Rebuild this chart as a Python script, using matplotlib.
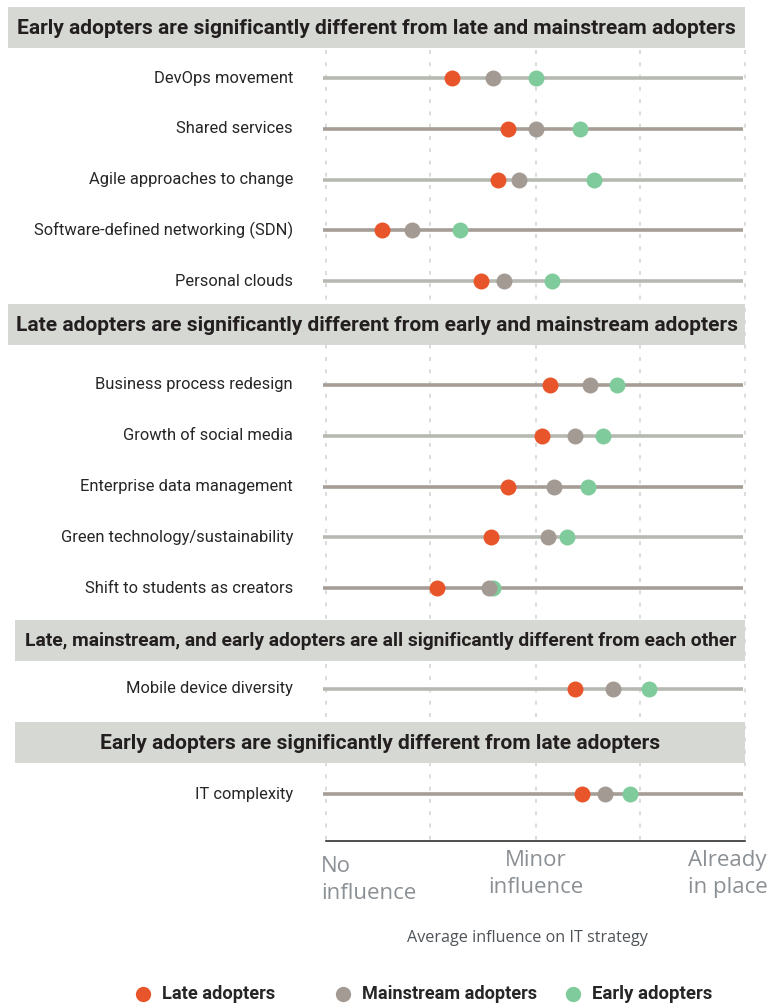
import matplotlib
matplotlib.use("Agg")
import matplotlib.pyplot as plt
from matplotlib.patches import Rectangle

# ---- data -------------------------------------------------------------
section_titles = [
    "Early adopters are significantly different from late and mainstream adopters",
    "Late adopters are significantly different from early and mainstream adopters",
    "Late, mainstream, and early adopters are all significantly different from each other",
    "Early adopters are significantly different from late adopters",
]
section_items = [
    ["DevOps movement", "Shared services", "Agile approaches to change",
     "Software-defined networking (SDN)", "Personal clouds"],
    ["Business process redesign", "Growth of social media",
     "Enterprise data management", "Green technology/sustainability",
     "Shift to students as creators"],
    ["Mobile device diversity"],
    ["IT complexity"],
]
# average influence (1 = no influence, 2 = minor influence, 3 = already in place)
late_adopters = [1.60, 1.87, 1.82, 1.27, 1.74,
                 2.07, 2.03, 1.87, 1.79, 1.53,
                 2.19,
                 2.22]
mainstream_adopters = [1.80, 2.00, 1.92, 1.41, 1.85,
                       2.26, 2.19, 2.09, 2.06, 1.78,
                       2.37,
                       2.33]
early_adopters = [2.00, 2.21, 2.28, 1.64, 2.08,
                  2.39, 2.32, 2.25, 2.15, 1.80,
                  2.54,
                  2.45]
series_names = ["Late adopters", "Mainstream adopters", "Early adopters"]
scale_labels = ["No\ninfluence", "Minor\ninfluence", "Already\nin place"]
axis_title = "Average influence on IT strategy"

# ---- styling ----------------------------------------------------------
RED, GREY, GREEN = "#e9552a", "#a39a93", "#80cb9b"
LINE_LIGHT, LINE_DARK = "#b6b9b1", "#a59d96"
BAND = "#d6d8d3"
TEXT = "#262626"
SCALE_TEXT = "#8b9095"

W, H, DPI = 770, 1006, 100
X0_PX, UNIT_PX = 325.5, 210.0          # pixel of value 1 and pixels per unit


def px2x(px):
    return 1 + (px - X0_PX) / UNIT_PX


fig = plt.figure(figsize=(W / DPI, H / DPI), dpi=DPI)
ax = fig.add_axes([0, 0, 1, 1])
ax.set_xlim(px2x(0), px2x(W))
ax.set_ylim(H, 0)
ax.axis("off")
fig.canvas.draw()
renderer = fig.canvas.get_renderer()


def fit_width(txt, width_px):
    """Rescale a text so that it spans the given width in pixels."""
    w = txt.get_window_extent(renderer).width
    txt.set_fontsize(txt.get_fontsize() * width_px / w)


# vertical layout (pixel rows)
band_tops = [7, 304, 620, 722]
band_h = 41
first_row_gap = [30, 40, 28, 31]
row_pitch = 50.8
axis_y = 841

row_y = []
for top, gap, items in zip(band_tops, first_row_gap, section_items):
    start = top + band_h + gap
    row_y += [start + i * row_pitch for i in range(len(items))]
labels = [lab for items in section_items for lab in items]

# dashed reference lines
for v in [1, 1.5, 2, 2.5, 3]:
    ax.plot([v, v], [50, axis_y], color="#d9d9d9", lw=1.3,
            dashes=(2.2, 4.6), zorder=0.5)

# section bands
band_left = [8, 8, 15, 15]
title_widths = [718, 721, 713, 558]
for top, left, title, tw in zip(band_tops, band_left, section_titles, title_widths):
    ax.add_patch(Rectangle((px2x(left), top), px2x(745.5) - px2x(left), band_h,
                           facecolor=BAND, edgecolor="none", zorder=1))
    cx = px2x((left + 745.5) / 2)
    t = ax.text(cx, top + band_h / 2 + 1, title, ha="center", va="center",
                fontsize=13, fontweight="bold", family="Roboto",
                color="#231f20", zorder=2)
    fit_width(t, tw)

# row lines, dots and labels
row_texts = []
for i, (y, lab) in enumerate(zip(row_y, labels)):
    col = LINE_LIGHT if i % 2 == 0 else LINE_DARK
    ax.plot([px2x(323), px2x(743.5)], [y, y], color=col, lw=2.6,
            solid_capstyle="butt", zorder=2)
    t = ax.text(px2x(293), y, lab, ha="right", va="center", fontsize=11,
                family="Roboto", color=TEXT)
    row_texts.append(t)
w = row_texts[3].get_window_extent(renderer).width
rs = 11 * 258 / w
for t in row_texts:
    t.set_fontsize(rs)

ax.plot(early_adopters, row_y, "o", ms=11.5, color=GREEN, mec="none", zorder=3)
ax.plot(mainstream_adopters, row_y, "o", ms=11.5, color=GREY, mec="none", zorder=4)
ax.plot(late_adopters, row_y, "o", ms=11.5, color=RED, mec="none", zorder=5)

# bottom axis line
ax.plot([1, 3], [axis_y, axis_y], color="#1e1e1e", lw=1.1, zorder=2)

# scale labels
sc_kw = dict(va="top", fontsize=16, family="Open Sans", color=SCALE_TEXT,
             linespacing=1.4)
ax.text(px2x(321), 856, scale_labels[0], ha="left", **sc_kw)
ax.text(px2x(536), 850, scale_labels[1], ha="center",
        multialignment="center", **sc_kw)
ax.text(px2x(768), 850, scale_labels[2], ha="right",
        multialignment="left", **sc_kw)
t = ax.text(px2x(527), 938, axis_title, ha="center", va="center", fontsize=11,
            family="Open Sans", color="#4f5459")
fit_width(t, 241)

# legend
leg_dot_px = [143, 343, 573]
leg_widths = [113, 174, 120]
for px, col, name, lw_ in zip(leg_dot_px, [RED, GREY, GREEN], series_names, leg_widths):
    ax.plot([px2x(px)], [994], "o", ms=11, color=col, mec="none")
    t = ax.text(px2x(px + 19), 994, name, ha="left", va="center", fontsize=12,
                fontweight="bold", family="Roboto", color=TEXT)
    fit_width(t, lw_)

fig.savefig("out.png", dpi=DPI, facecolor="white")
